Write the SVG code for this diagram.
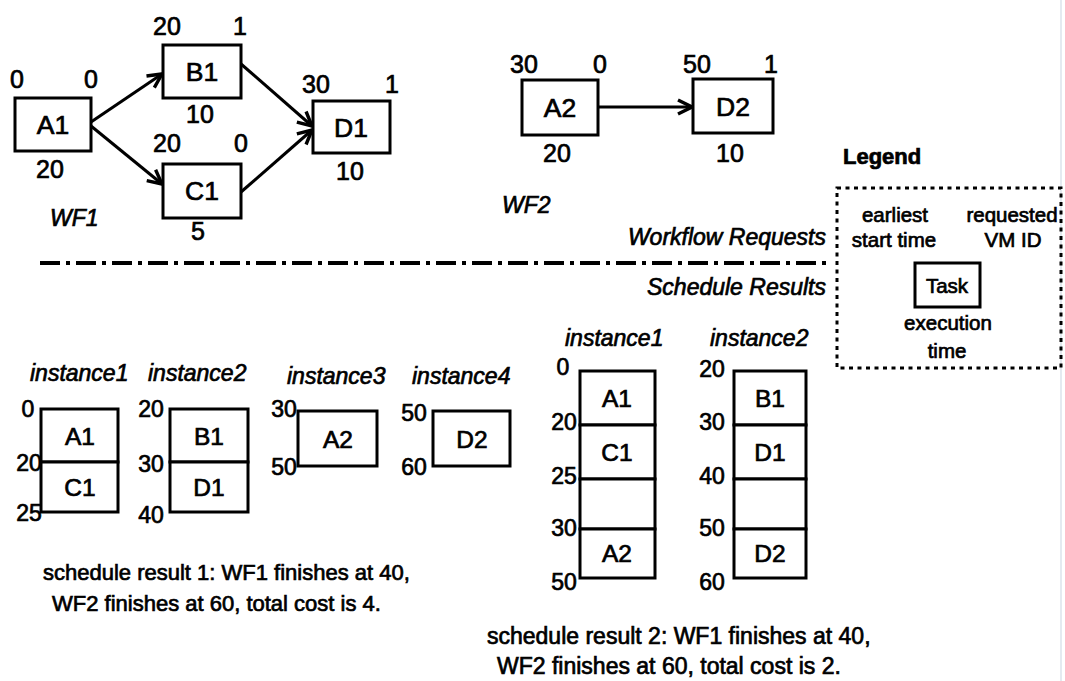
<svg xmlns="http://www.w3.org/2000/svg" width="1065" height="681" viewBox="0 0 1065 681">
<style>
text{font-family:"Liberation Sans",Arial,sans-serif;fill:#000;stroke:#000;stroke-width:0.7}
.t{font-size:25px;text-anchor:middle}
.nm{font-size:26.5px;text-anchor:middle}
.n{font-size:23px;text-anchor:middle}
.c{font-size:24.5px;text-anchor:middle}
.i{font-size:23px;font-style:italic}
.lg{font-size:20.5px;text-anchor:middle}
.box{fill:#fff;stroke:#000;stroke-width:3}
.edge{stroke:#000;stroke-width:3;fill:none}
</style>
<defs>
<marker id="ah" markerUnits="userSpaceOnUse" markerWidth="20" markerHeight="20" refX="0" refY="0" viewBox="-18 -10 20 20" orient="auto">
<path d="M-14,-7 L0,0 L-14,7" fill="none" stroke="#000" stroke-width="3.4" stroke-linejoin="miter"/>
</marker>
</defs>
<rect x="0" y="0" width="1065" height="681" fill="#fff"/>
<rect x="1060" y="0" width="2" height="681" fill="#e4eaf0"/>

<g id="connectors">
<line class="edge" x1="91" y1="122" x2="162" y2="74" marker-end="url(#ah)"/>
<line class="edge" x1="91" y1="126" x2="162" y2="184" marker-end="url(#ah)"/>
<line class="edge" x1="241" y1="64" x2="312" y2="126" marker-end="url(#ah)"/>
<line class="edge" x1="241" y1="192" x2="312" y2="130" marker-end="url(#ah)"/>
<line class="edge" x1="598" y1="107" x2="692" y2="107" marker-end="url(#ah)"/>
</g>

<g id="A1">
<rect class="box" x="15" y="98" width="76" height="53"/>
<text class="nm" x="53" y="134">A1</text>
<text class="t" x="17" y="88">0</text>
<text class="t" x="91" y="88">0</text>
<text class="t" x="50" y="178">20</text>
</g>
<g id="B1">
<rect class="box" x="163" y="45" width="78" height="53"/>
<text class="nm" x="202" y="81">B1</text>
<text class="t" x="167" y="35">20</text>
<text class="t" x="240" y="35">1</text>
<text class="t" x="200" y="123">10</text>
</g>
<g id="C1">
<rect class="box" x="163" y="164" width="78" height="54"/>
<text class="nm" x="202" y="200">C1</text>
<text class="t" x="167" y="152">20</text>
<text class="t" x="241" y="152">0</text>
<text class="t" x="198" y="240">5</text>
</g>
<g id="D1">
<rect class="box" x="313" y="101" width="77" height="52"/>
<text class="nm" x="351" y="137">D1</text>
<text class="t" x="316" y="93">30</text>
<text class="t" x="392" y="93">1</text>
<text class="t" x="350" y="180">10</text>
</g>
<text class="i" x="50" y="226" font-size="24">WF1</text>

<g id="A2">
<rect class="box" x="522" y="80" width="76" height="55"/>
<text class="nm" x="560" y="117">A2</text>
<text class="t" x="524" y="73">30</text>
<text class="t" x="600" y="73">0</text>
<text class="t" x="557" y="162">20</text>
</g>
<g id="D2">
<rect class="box" x="693" y="79" width="80" height="54"/>
<text class="nm" x="733" y="116">D2</text>
<text class="t" x="697" y="73">50</text>
<text class="t" x="771" y="73">1</text>
<text class="t" x="730" y="162">10</text>
</g>
<text class="i" x="502" y="213" font-size="24">WF2</text>

<g id="separator">
<line x1="40" y1="263" x2="828" y2="263" stroke="#000" stroke-width="4" stroke-dasharray="20 6 4 6"/>
<text class="i" x="826" y="245" text-anchor="end">Workflow Requests</text>
<text class="i" x="826" y="295" text-anchor="end">Schedule Results</text>
</g>

<g id="legend">
<text x="843" y="164" font-size="22" font-weight="bold">Legend</text>
<rect x="837" y="188" width="224" height="180" fill="none" stroke="#000" stroke-width="3" stroke-dasharray="4 4.5"/>
<text class="lg" x="895" y="222">earliest</text>
<text class="lg" x="894" y="247">start time</text>
<text class="lg" x="1012" y="222">requested</text>
<text class="lg" x="1013" y="247">VM ID</text>
<rect class="box" x="915" y="263" width="65" height="44"/>
<text class="lg" x="947" y="293">Task</text>
<text class="lg" x="948" y="330">execution</text>
<text class="lg" x="947" y="358">time</text>
</g>

<g id="schedule1">
<text class="i" x="30" y="381">instance1</text>
<text class="i" x="148" y="381">instance2</text>
<text class="i" x="287" y="384">instance3</text>
<text class="i" x="412" y="384">instance4</text>
<g id="s1-inst1">
<rect class="box" x="41" y="409" width="77" height="53"/>
<rect class="box" x="41" y="462" width="77" height="50"/>
<text class="c" x="80" y="445">A1</text>
<text class="c" x="80" y="496">C1</text>
<text class="n" x="28" y="417">0</text>
<text class="n" x="29" y="471">20</text>
<text class="n" x="29" y="521">25</text>
</g>
<g id="s1-inst2">
<rect class="box" x="170" y="409" width="78" height="53"/>
<rect class="box" x="170" y="462" width="78" height="50"/>
<text class="c" x="209" y="445">B1</text>
<text class="c" x="209" y="496">D1</text>
<text class="n" x="151" y="417">20</text>
<text class="n" x="151" y="472">30</text>
<text class="n" x="151" y="523">40</text>
</g>
<g id="s1-inst3">
<rect class="box" x="298" y="411" width="79" height="55"/>
<text class="c" x="338" y="448">A2</text>
<text class="n" x="284" y="417">30</text>
<text class="n" x="284" y="475">50</text>
</g>
<g id="s1-inst4">
<rect class="box" x="433" y="411" width="77" height="55"/>
<text class="c" x="472" y="448">D2</text>
<text class="n" x="414" y="421">50</text>
<text class="n" x="414" y="475">60</text>
</g>
<text x="43" y="580" font-size="22">schedule result 1: WF1 finishes at 40,</text>
<text x="52" y="611" font-size="22">WF2 finishes at 60, total cost is 4.</text>
</g>

<g id="schedule2">
<text class="i" x="565" y="346">instance1</text>
<text class="i" x="710" y="346">instance2</text>
<g id="s2-inst1">
<rect class="box" x="580" y="371" width="75" height="54"/>
<rect class="box" x="580" y="425" width="75" height="54"/>
<rect class="box" x="580" y="479" width="75" height="50"/>
<rect class="box" x="580" y="529" width="75" height="49"/>
<text class="c" x="617" y="407">A1</text>
<text class="c" x="617" y="461">C1</text>
<text class="c" x="617" y="562">A2</text>
<text class="n" x="563" y="375">0</text>
<text class="n" x="564" y="430">20</text>
<text class="n" x="564" y="484">25</text>
<text class="n" x="564" y="536">30</text>
<text class="n" x="564" y="590">50</text>
</g>
<g id="s2-inst2">
<rect class="box" x="734" y="371" width="72" height="54"/>
<rect class="box" x="734" y="425" width="72" height="54"/>
<rect class="box" x="734" y="479" width="72" height="50"/>
<rect class="box" x="734" y="529" width="72" height="49"/>
<text class="c" x="770" y="407">B1</text>
<text class="c" x="770" y="461">D1</text>
<text class="c" x="770" y="562">D2</text>
<text class="n" x="712" y="377">20</text>
<text class="n" x="712" y="430">30</text>
<text class="n" x="712" y="484">40</text>
<text class="n" x="712" y="536">50</text>
<text class="n" x="712" y="590">60</text>
</g>
<text x="487" y="644" font-size="23">schedule result 2: WF1 finishes at 40,</text>
<text x="497" y="674" font-size="23">WF2 finishes at 60, total cost is 2.</text>
</g>
</svg>
